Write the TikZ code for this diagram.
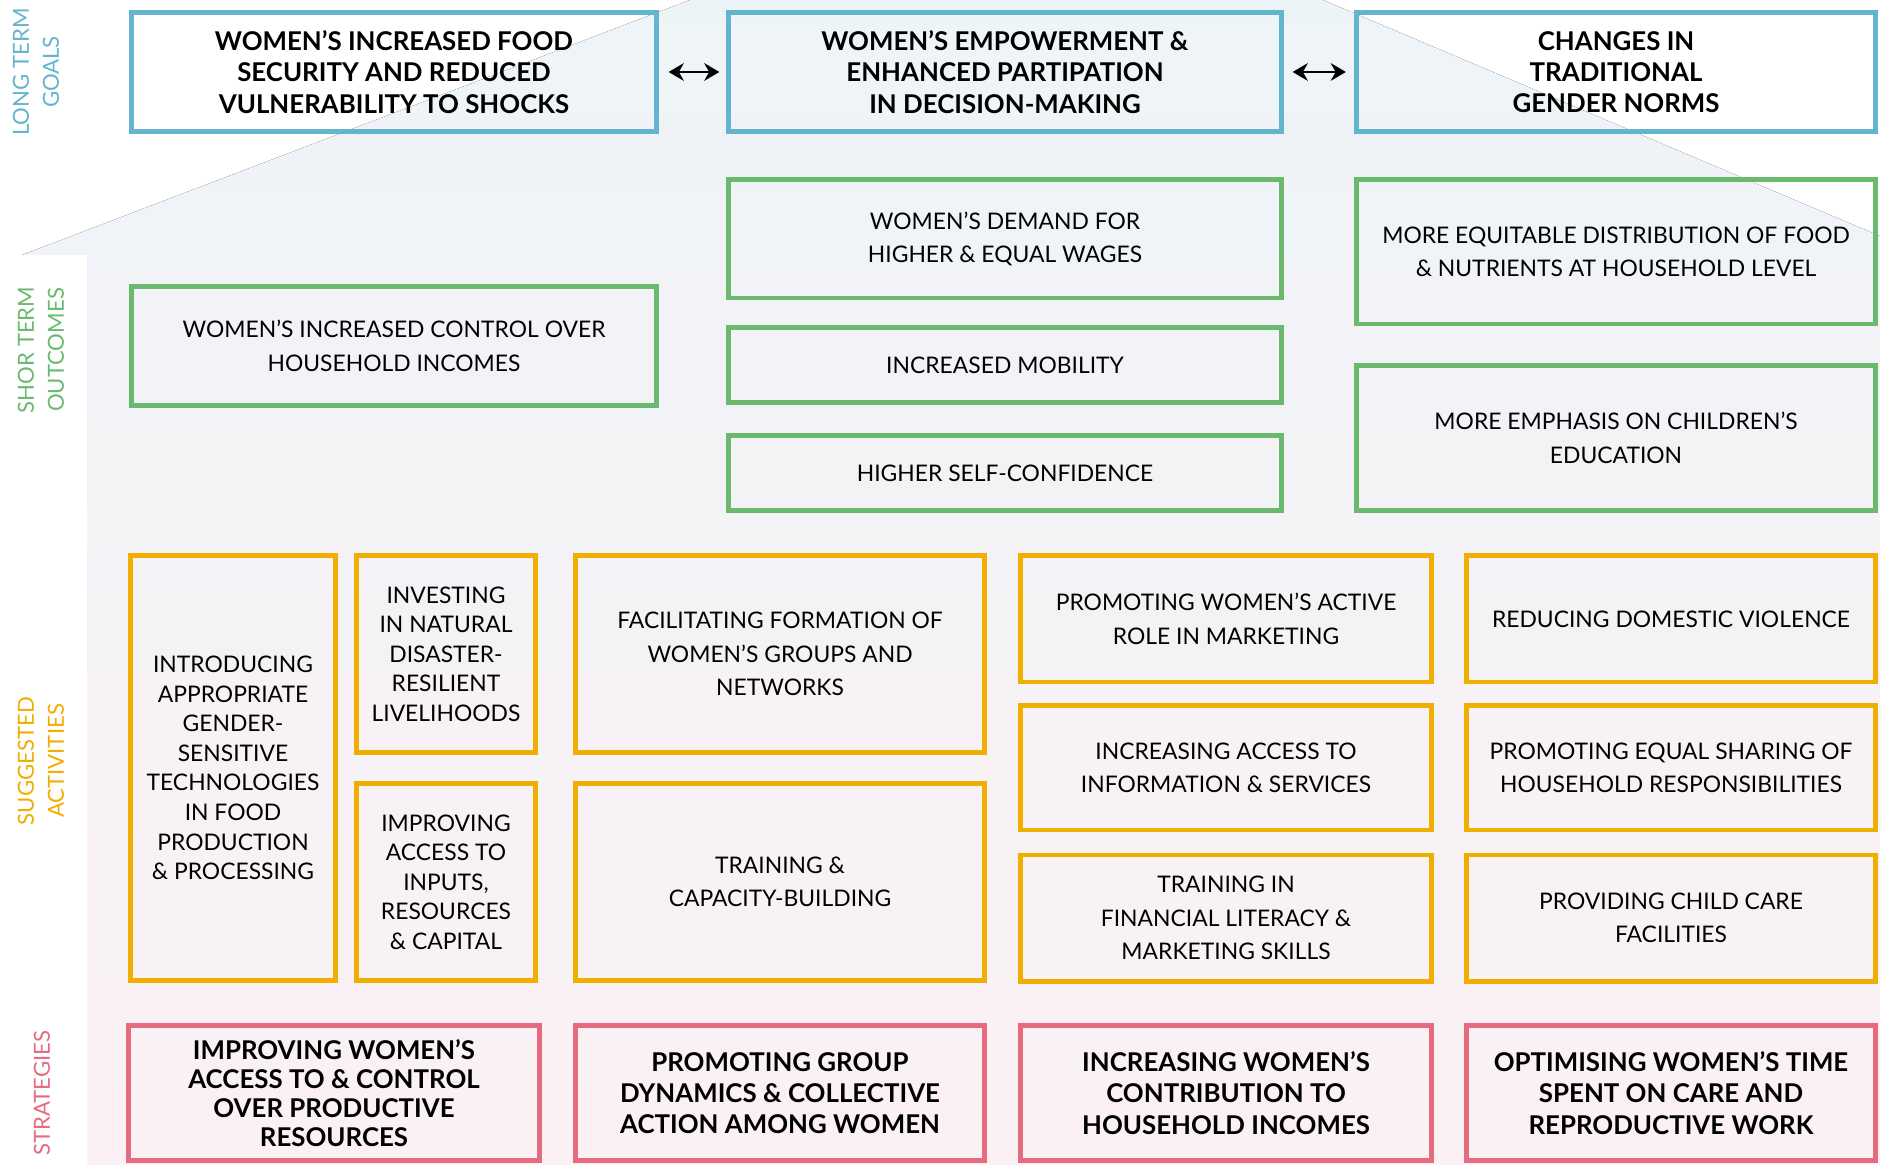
\documentclass[tikz,border=0pt]{standalone}
\usepackage{fontspec}
\setmainfont{Lato}
\usetikzlibrary{arrows.meta}
\definecolor{goalcol}{RGB}{98,181,204}
\definecolor{outcol}{RGB}{107,185,110}
\definecolor{actcol}{RGB}{240,174,0}
\definecolor{stratcol}{RGB}{231,107,127}
\definecolor{housetop}{RGB}{236,244,248}
\definecolor{housemid}{RGB}{243,244,247}
\definecolor{housebot}{RGB}{252,241,244}
\begin{document}
\begin{tikzpicture}[x=0.01cm,y=-0.01cm,
box/.style={draw,line width=1.4pt,align=center,inner sep=0pt},
goal/.style={box,draw=goalcol,font=\fontsize{7.35}{8.9}\selectfont\bfseries},
outc/.style={box,draw=outcol,font=\fontsize{6.5}{9.5}\selectfont},
act/.style={box,draw=actcol,font=\fontsize{6.5}{9.5}\selectfont},
narrow/.style={font=\fontsize{6.5}{8.4}\selectfont},
strat/.style={box,draw=stratcol,font=\fontsize{7.35}{8.9}\selectfont\bfseries},
side/.style={rotate=90,align=center,font=\fontsize{6.3}{8.5}\selectfont},
dbl/.style={{Stealth[length=4.3pt,width=5pt]}-{Stealth[length=4.3pt,width=5pt]},line width=0.8pt}]
\useasboundingbox (0,0) rectangle (1880,1165);
\clip (0,0) rectangle (1880,1165);
% house
\fill[top color=housetop,middle color=housemid,bottom color=housebot] (22,255) -- (952,-100) -- (1087,-100) -- (2000,287) -- (2000,1200) -- (87,1200) -- (87,255) -- cycle;

% row labels
\node[side,text=goalcol] (lg) at (36,72) {LONG TERM\\GOALS};
\node[side,text=outcol] (lo) at (41,350) {SHOR TERM\\OUTCOMES};
\node[side,text=actcol] (la) at (41,761) {SUGGESTED\\ACTIVITIES};
\node[side,text=stratcol] (ls) at (42,1093) {STRATEGIES};

% long term goals
\node[goal,minimum width=5.24cm,minimum height=1.19cm] (lt1) at (394,72) {WOMEN’S INCREASED FOOD\\SECURITY AND REDUCED\\VULNERABILITY TO SHOCKS};
\node[goal,minimum width=5.52cm,minimum height=1.19cm] (lt2) at (1005,72) {WOMEN’S EMPOWERMENT \&\\ENHANCED PARTIPATION\\IN DECISION-MAKING};
\node[goal,minimum width=5.19cm,minimum height=1.19cm] (lt3) at (1616,72) {CHANGES IN\\TRADITIONAL\\GENDER NORMS};
\draw[dbl] ([xshift=0.1cm]lt1.east) -- ([xshift=-0.07cm]lt2.west);
\draw[dbl] ([xshift=0.09cm]lt2.east) -- ([xshift=-0.08cm]lt3.west);

% short term outcomes
\node[outc,minimum width=5.24cm,minimum height=1.19cm] (st1) at (394,346) {WOMEN’S INCREASED CONTROL OVER\\HOUSEHOLD INCOMES};
\node[outc,minimum width=5.52cm,minimum height=1.18cm] (st2) at (1005,239) {WOMEN’S DEMAND FOR\\HIGHER \& EQUAL WAGES};
\node[outc,minimum width=5.52cm,minimum height=0.75cm] (st3) at (1005,365) {INCREASED MOBILITY};
\node[outc,minimum width=5.52cm,minimum height=0.75cm] (st4) at (1005,473) {HIGHER SELF-CONFIDENCE};
\node[outc,minimum width=5.19cm,minimum height=1.44cm] (st5) at (1616,252) {MORE EQUITABLE DISTRIBUTION OF FOOD\\\& NUTRIENTS AT HOUSEHOLD LEVEL};
\node[outc,minimum width=5.19cm,minimum height=1.45cm] (st6) at (1616,438) {MORE EMPHASIS ON CHILDREN’S\\EDUCATION};

% suggested activities
\node[act,narrow,minimum width=2.05cm,minimum height=4.24cm] (ac1) at (233,768) {INTRODUCING\\APPROPRIATE\\GENDER-\\SENSITIVE\\TECHNOLOGIES\\IN FOOD\\PRODUCTION\\\& PROCESSING};
\node[act,narrow,minimum width=1.78cm,minimum height=1.96cm] (ac2) at (446,654) {INVESTING\\IN NATURAL\\DISASTER-\\RESILIENT\\LIVELIHOODS};
\node[act,narrow,minimum width=1.78cm,minimum height=1.96cm] (ac3) at (446,882) {IMPROVING\\ACCESS TO\\INPUTS,\\RESOURCES\\\& CAPITAL};
\node[act,minimum width=4.09cm,minimum height=1.96cm] (ac4) at (780,654) {FACILITATING FORMATION OF\\WOMEN’S GROUPS AND\\NETWORKS};
\node[act,minimum width=4.09cm,minimum height=1.96cm] (ac5) at (780,882) {TRAINING \&\\CAPACITY-BUILDING};
\node[act,minimum width=4.10cm,minimum height=1.26cm] (ac6) at (1226,619) {PROMOTING WOMEN’S ACTIVE\\ROLE IN MARKETING};
\node[act,minimum width=4.10cm,minimum height=1.24cm] (ac7) at (1226,768) {INCREASING ACCESS TO\\INFORMATION \& SERVICES};
\node[act,minimum width=4.10cm,minimum height=1.26cm] (ac8) at (1226,918) {TRAINING IN\\FINANCIAL LITERACY \&\\MARKETING SKILLS};
\node[act,minimum width=4.09cm,minimum height=1.26cm] (ac9) at (1671,619) {REDUCING DOMESTIC VIOLENCE};
\node[act,minimum width=4.09cm,minimum height=1.24cm] (ac10) at (1671,768) {PROMOTING EQUAL SHARING OF\\HOUSEHOLD RESPONSIBILITIES};
\node[act,minimum width=4.09cm,minimum height=1.26cm] (ac11) at (1671,918) {PROVIDING CHILD CARE\\FACILITIES};

% strategies
\node[strat,font=\fontsize{7.35}{8.3}\selectfont\bfseries,minimum width=4.10cm,minimum height=1.35cm] (sg1) at (334,1093) {IMPROVING WOMEN’S\\ACCESS TO \& CONTROL\\OVER PRODUCTIVE\\RESOURCES};
\node[strat,minimum width=4.09cm,minimum height=1.35cm] (sg2) at (780,1093) {PROMOTING GROUP\\DYNAMICS \& COLLECTIVE\\ACTION AMONG WOMEN};
\node[strat,minimum width=4.10cm,minimum height=1.35cm] (sg3) at (1226,1093) {INCREASING WOMEN’S\\CONTRIBUTION TO\\HOUSEHOLD INCOMES};
\node[strat,minimum width=4.09cm,minimum height=1.35cm] (sg4) at (1671,1093) {OPTIMISING WOMEN’S TIME\\SPENT ON CARE AND\\REPRODUCTIVE WORK};
\end{tikzpicture}
\end{document}
